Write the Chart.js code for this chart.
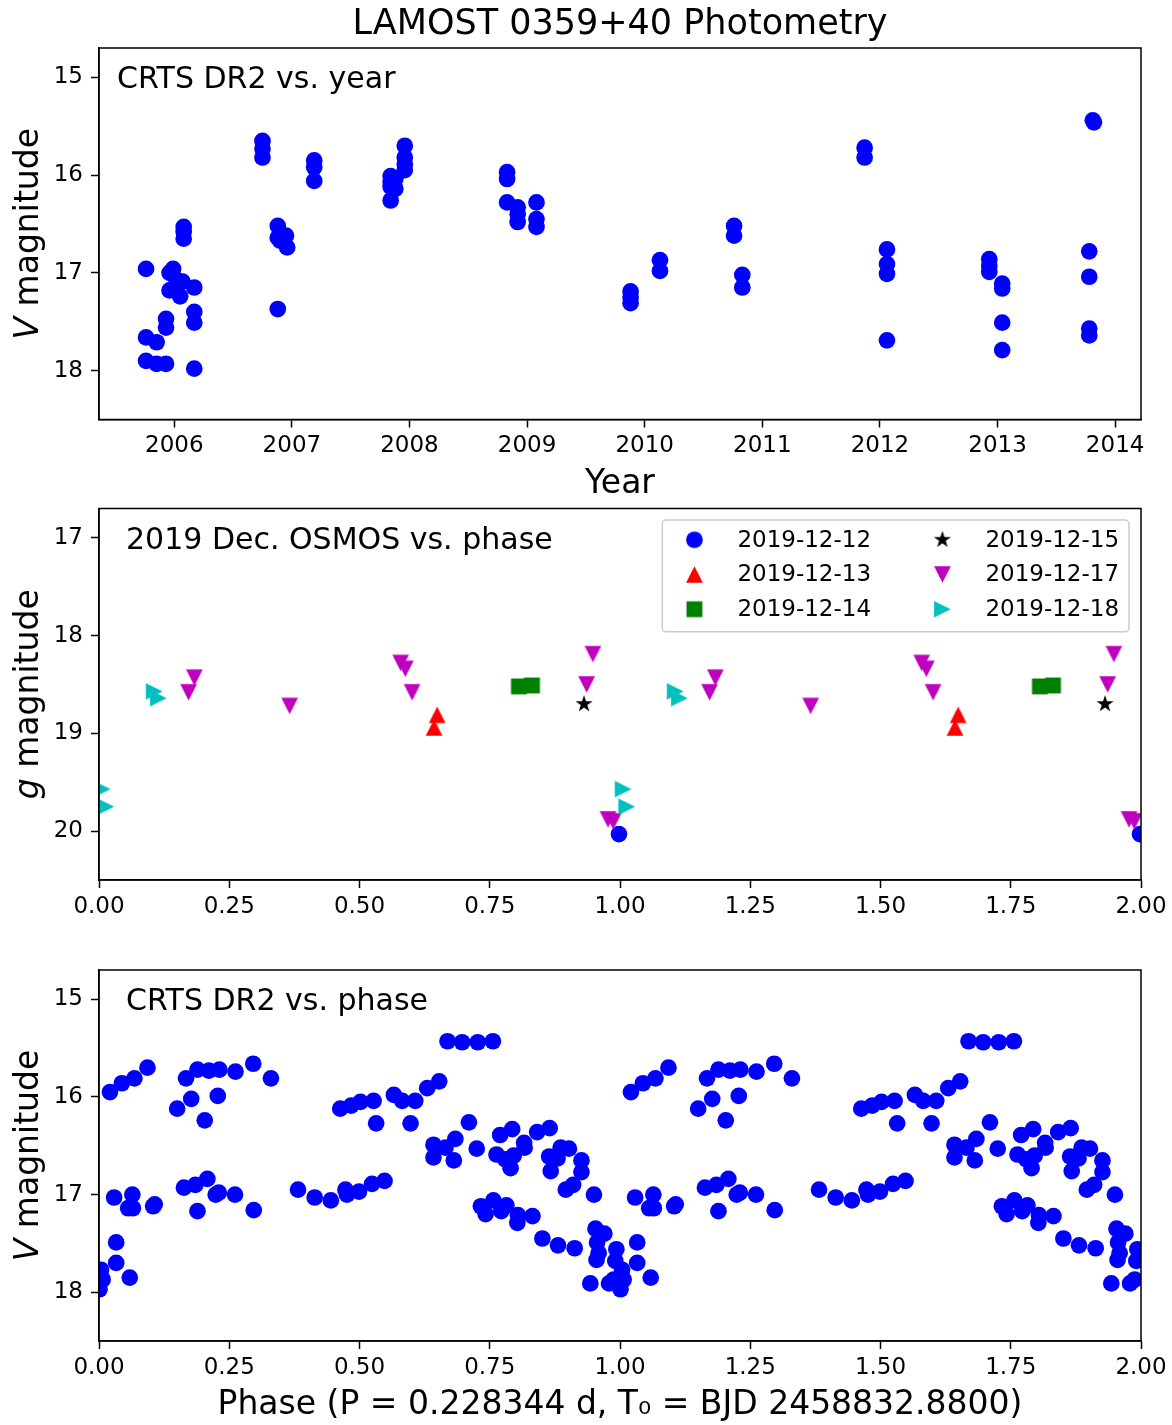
<!DOCTYPE html>
<html lang="en">
<head>
<meta charset="UTF-8">
<title>LAMOST 0359+40 Photometry</title>
<script src="https://cdn.jsdelivr.net/npm/chart.js"></script>
<style>
  html, body { margin: 0; padding: 0; background: #fff; }
  body { width: 1172px; height: 1425px; position: relative; overflow: hidden; }
  .panel { position: absolute; left: 0; }
  #p1 { top: 0; }
  #p2 { top: 500px; }
  #p3 { top: 940px; }
</style>
</head>
<body>
<canvas id="p1" class="panel" width="1172" height="505"></canvas>
<canvas id="p2" class="panel" width="1172" height="440"></canvas>
<canvas id="p3" class="panel" width="1172" height="485"></canvas>

<script>
// ---- data: CRTS DR2 vs. year ----
const crtsYear = [
  2005.76, 2005.76, 2005.85, 2005.76, 2005.85, 2005.93, 2005.93, 2005.93,
  2005.99, 2005.96, 2006.03, 2006.07, 2005.96, 2006.00, 2006.05,
  2006.08, 2006.08, 2006.08, 2006.17, 2006.17, 2006.17, 2006.17,
  2006.75, 2006.75, 2006.75, 2006.88, 2006.88, 2006.90, 2006.95, 2006.96, 2006.88,
  2007.19, 2007.19, 2007.19,
  2007.84, 2007.84, 2007.84, 2007.84, 2007.88, 2007.88, 2007.96, 2007.96, 2007.96, 2007.96,
  2008.83, 2008.83, 2008.83, 2008.92, 2008.92, 2008.92, 2009.08, 2009.08, 2009.08,
  2009.88, 2009.88, 2009.88, 2010.13, 2010.13, 2010.76, 2010.76, 2010.83, 2010.83,
  2011.87, 2011.87, 2012.06, 2012.06, 2012.06, 2012.06,
  2012.93, 2012.93, 2012.93, 2013.04, 2013.04, 2013.04, 2013.04,
  2013.81, 2013.82, 2013.78, 2013.78, 2013.78, 2013.78
];
const crtsYearMag = [
  16.96, 17.66, 17.71, 17.90, 17.93, 17.93, 17.47, 17.56,
  16.96, 17.00, 17.08, 17.09, 17.18, 17.15, 17.24,
  16.53, 16.58, 16.65, 17.15, 17.40, 17.51, 17.98,
  15.65, 15.73, 15.82, 16.52, 16.64, 16.67, 16.62, 16.74, 17.37,
  15.85, 15.92, 16.06,
  16.01, 16.07, 16.12, 16.26, 16.04, 16.14, 15.70, 15.82, 15.89, 15.95,
  15.97, 16.04, 16.28, 16.33, 16.40, 16.48, 16.28, 16.45, 16.53,
  17.19, 17.25, 17.31, 16.87, 16.98, 16.52, 16.62, 17.02, 17.15,
  15.72, 15.82, 16.76, 16.91, 17.01, 17.69,
  16.86, 16.93, 16.99, 17.11, 17.16, 17.51, 17.79,
  15.44, 15.46, 16.78, 17.04, 17.57, 17.64
];

// ---- data: CRTS DR2 folded on the period (phase 0-1, plotted twice) ----
const crtsPhase = [
  0.021, 0.044, 0.068, 0.093, 0.150, 0.167, 0.177, 0.189, 0.203, 0.211, 0.231, 0.228, 0.262, 0.296, 0.330,
  0.029, 0.064, 0.056, 0.065, 0.104, 0.107, 0.033, 0.033, 0.059, 0.001, 0.004, 0.007,
  0.163, 0.185, 0.208, 0.189, 0.224, 0.230, 0.261, 0.297,
  0.382, 0.414, 0.445, 0.473, 0.476, 0.499, 0.524, 0.548,
  0.463, 0.484, 0.502, 0.527, 0.532, 0.566, 0.582, 0.607, 0.598, 0.630, 0.653,
  0.669, 0.697, 0.727, 0.756,
  0.642, 0.665, 0.684, 0.642, 0.681, 0.710, 0.725, 0.770, 0.793, 0.763, 0.780, 0.796, 0.790, 0.816, 0.817,
  0.841, 0.865, 0.864, 0.880, 0.867, 0.886, 0.902, 0.926, 0.926, 0.896, 0.910, 0.950,
  0.733, 0.742, 0.757, 0.772, 0.782, 0.804, 0.803, 0.832,
  0.851, 0.881, 0.913, 0.953, 0.970, 0.956, 0.959, 0.955, 0.993, 0.991, 0.943, 0.979, 0.988
];
const crtsPhaseMag = [
  15.95, 15.86, 15.81, 15.70, 16.12, 15.81, 16.02, 15.72, 16.24, 15.73, 15.72, 15.99, 15.74, 15.66, 15.81,
  17.03, 17.00, 17.14, 17.14, 17.12, 17.10, 17.49, 17.70, 17.85, 17.97, 17.77, 17.87,
  16.93, 16.90, 16.84, 17.17, 17.00, 16.98, 17.00, 17.16,
  16.95, 17.03, 17.06, 16.95, 17.00, 16.97, 16.89, 16.86,
  16.12, 16.09, 16.05, 16.04, 16.27, 15.98, 16.04, 16.04, 16.27, 15.91, 15.84,
  15.43, 15.44, 15.44, 15.43,
  16.49, 16.52, 16.43, 16.62, 16.65, 16.26, 16.53, 16.39, 16.33, 16.59, 16.64, 16.60, 16.73, 16.47, 16.52,
  16.36, 16.32, 16.61, 16.63, 16.76, 16.52, 16.53, 16.65, 16.77, 16.95, 16.90, 17.00,
  17.12, 17.20, 17.06, 17.17, 17.11, 17.21, 17.29, 17.22,
  17.45, 17.52, 17.55, 17.35, 17.40, 17.49, 17.60, 17.67, 17.56, 17.68, 17.91, 17.91, 17.87
];

// ---- data: 2019 Dec. OSMOS, one pair of arrays per night ----
const nights = ['2019-12-12', '2019-12-13', '2019-12-14', '2019-12-15', '2019-12-17', '2019-12-18'];
const phase1212 = [0.998];
const gmag1212 = [20.03];
const phase1213 = [0.649, 0.643];
const gmag1213 = [18.81, 18.94];
const phase1214 = [0.806, 0.831];
const gmag1214 = [18.52, 18.51];
const phase1215 = [0.931];
const gmag1215 = [18.70];
const phase1217 = [0.183, 0.172, 0.366, 0.579, 0.588, 0.601, 0.948, 0.936, 0.977, 0.987];
const gmag1217 = [18.43, 18.58, 18.72, 18.28, 18.34, 18.58, 18.19, 18.50, 19.88, 19.90];
const phase1218 = [0.106, 0.114, 0.006, 0.013];
const gmag1218 = [18.57, 18.64, 19.57, 19.75];

// ---- tick values ----
const yearTicks = [2006, 2007, 2008, 2009, 2010, 2011, 2012, 2013, 2014];
const phaseTicks = [0, 0.25, 0.5, 0.75, 1.0, 1.25, 1.5, 1.75, 2.0];
const vTicks = [15, 16, 17, 18];
const gTicks = [17, 18, 19, 20];

// ---- helpers ----
Chart.defaults.font.family = '"DejaVu Sans", sans-serif';
Chart.defaults.color = '#000';
Chart.defaults.animation = false;
Chart.defaults.events = [];

const FONT = '"DejaVu Sans", sans-serif';
const MS = 16.7; // marker size in px

function marker(kind, color, size) {
  const c = document.createElement('canvas');
  c.width = c.height = Math.ceil(size) + 2;
  const g = c.getContext('2d');
  const m = c.width / 2, h = size / 2;
  g.fillStyle = color;
  g.beginPath();
  if (kind === 'up') { g.moveTo(m, m - h); g.lineTo(m + h, m + h); g.lineTo(m - h, m + h); }
  else if (kind === 'down') { g.moveTo(m, m + h); g.lineTo(m + h, m - h); g.lineTo(m - h, m - h); }
  else if (kind === 'right') { g.moveTo(m + h, m); g.lineTo(m - h, m - h); g.lineTo(m - h, m + h); }
  else if (kind === 'square') { g.rect(m - h * 0.95, m - h * 0.95, size * 0.95, size * 0.95); }
  else if (kind === 'star') {
    for (let i = 0; i < 10; i++) {
      const r = i % 2 ? h * 0.382 : h;
      const t = -Math.PI / 2 + i * Math.PI / 5;
      g.lineTo(m + r * Math.cos(t), m + r * Math.sin(t));
    }
  }
  else { g.arc(m, m, h, 0, Math.PI * 2); }
  g.closePath();
  g.fill();
  return c;
}

const fold = (ph, mag) => ph.map((p, i) => ({ x: p, y: mag[i] }))
  .concat(ph.map((p, i) => ({ x: p + 1, y: mag[i] })));

function xAxis(min, max, ticks, fmt, h, title) {
  return {
    type: 'linear', min, max,
    afterBuildTicks: a => { a.ticks = ticks.map(v => ({ value: v })); },
    afterFit: s => { s.height = h; s.paddingLeft = 0; s.paddingRight = 0; },
    ticks: { autoSkip: false, maxRotation: 0, minRotation: 0, font: { size: 23 }, color: '#000', padding: 5, callback: fmt },
    grid: { drawOnChartArea: false, drawTicks: true, tickLength: 8, tickWidth: 1.5, tickColor: '#000' },
    border: { display: true, color: '#000', width: 1.5 },
    title: title ? { display: true, text: title, font: { size: 33 }, color: '#000', padding: { top: 0, bottom: title === 'Year' ? 1 : 0 } } : { display: false }
  };
}

function yAxis(min, max, ticks) {
  return {
    type: 'linear', min, max, reverse: true,
    afterBuildTicks: a => { a.ticks = ticks.map(v => ({ value: v })); },
    afterFit: s => { s.width = 99; s.paddingTop = 0; s.paddingBottom = 0; },
    ticks: { autoSkip: false, font: { size: 23 }, color: '#000', padding: 8, callback: v => String(v) },
    grid: { drawOnChartArea: false, drawTicks: true, tickLength: 8, tickWidth: 1.5, tickColor: '#000' },
    border: { display: true, color: '#000', width: 1.5 }
  };
}

// frame box, in-panel note, y title with an italic band letter, optional legend
const decor = {
  id: 'decor',
  afterDatasetsDraw(chart, args, o) {
    const { ctx, chartArea: a } = chart;
    ctx.save();
    ctx.strokeStyle = '#000';
    ctx.lineWidth = 1.5;
    ctx.strokeRect(a.left, a.top, a.right - a.left, a.bottom - a.top);

    ctx.fillStyle = '#000';
    ctx.textBaseline = 'alphabetic';
    ctx.textAlign = 'left';
    ctx.font = '30px ' + FONT;
    ctx.fillText(o.note, a.left + o.noteX, a.top + 40);

    // y title
    ctx.save();
    ctx.translate(38, (a.top + a.bottom) / 2);
    ctx.rotate(-Math.PI / 2);
    ctx.font = 'italic 33px ' + FONT;
    const w1 = ctx.measureText(o.band).width;
    ctx.font = '33px ' + FONT;
    const w2 = ctx.measureText(' magnitude').width;
    const x0 = -(w1 + w2) / 2;
    ctx.font = 'italic 33px ' + FONT;
    ctx.fillText(o.band, x0, 0);
    ctx.font = '33px ' + FONT;
    ctx.fillText(' magnitude', x0 + w1, 0);
    ctx.restore();

    if (o.legend) {
      const L = o.legend;
      const bw = 466.7, bh = 111.7;
      const bx = a.right - 12 - bw, by = a.top + 11.6;
      ctx.fillStyle = 'rgba(255,255,255,0.8)';
      ctx.strokeStyle = '#cccccc';
      ctx.lineWidth = 1.5;
      ctx.beginPath();
      ctx.roundRect(bx, by, bw, bh, 4);
      ctx.fill();
      ctx.stroke();
      ctx.font = '23px ' + FONT;
      ctx.textBaseline = 'middle';
      ctx.fillStyle = '#000';
      chart.data.datasets.forEach((ds, i) => {
        const col = Math.floor(i / 3), row = i % 3;
        const mx = bx + (col ? 280.1 : 32.1), tx = bx + (col ? 323.1 : 75.1);
        const my = by + 19.7 + row * 34.7;
        const img = L[i];
        ctx.drawImage(img, mx - img.width / 2, my - img.height / 2);
        ctx.fillText(ds.label, tx, my + 1);
      });
    }
    ctx.restore();
  }
};

// ---- panel 1: CRTS DR2 vs. year ----
new Chart(document.getElementById('p1'), {
  type: 'scatter',
  data: {
    datasets: [{
      label: 'CRTS DR2',
      data: crtsYear.map((t, i) => ({ x: t, y: crtsYearMag[i] })),
      pointStyle: 'circle', pointRadius: MS / 2, borderWidth: 0,
      backgroundColor: '#0000ff', clip: 0
    }]
  },
  options: {
    responsive: false,
    layout: { padding: { left: 0, right: 31, top: 0, bottom: 0 } },
    scales: {
      x: xAxis(2005.36, 2014.22, yearTicks, v => String(v), 85.5, 'Year'),
      y: yAxis(14.7, 18.5, vTicks)
    },
    plugins: {
      legend: { display: false },
      tooltip: { enabled: false },
      title: { display: true, fullSize: false, text: 'LAMOST 0359+40 Photometry', font: { size: 35, weight: 'normal' }, color: '#000', padding: { top: 4, bottom: 2 } },
      decor: { note: 'CRTS DR2 vs. year', noteX: 18, band: 'V' }
    }
  },
  plugins: [decor]
});

// ---- panel 2: 2019 Dec. OSMOS vs. phase ----
const osmos = [
  [phase1212, gmag1212, 'circle', '#0000ff'],
  [phase1213, gmag1213, 'up', '#ff0000'],
  [phase1214, gmag1214, 'square', '#008000'],
  [phase1215, gmag1215, 'star', '#000000'],
  [phase1217, gmag1217, 'down', '#bf00bf'],
  [phase1218, gmag1218, 'right', '#00bfbf']
];
const starSize = 18;
const icons = osmos.map(s => marker(s[2], s[3], s[2] === 'star' ? starSize : MS));

new Chart(document.getElementById('p2'), {
  type: 'scatter',
  data: {
    datasets: osmos.map((s, i) => ({
      label: nights[i],
      data: fold(s[0], s[1]),
      pointStyle: s[2] === 'circle' ? 'circle' : icons[i],
      pointRadius: MS / 2, borderWidth: 0,
      backgroundColor: s[3], clip: 0, order: -i
    }))
  },
  options: {
    responsive: false,
    layout: { padding: { left: 0, right: 31, top: 8.5, bottom: 0 } },
    scales: {
      x: xAxis(0, 2, phaseTicks, v => v.toFixed(2), 60, null),
      y: yAxis(16.7, 20.5, gTicks)
    },
    plugins: {
      legend: { display: false },
      tooltip: { enabled: false },
      decor: { note: '2019 Dec. OSMOS vs. phase', noteX: 27, band: 'g', legend: icons }
    }
  },
  plugins: [decor]
});

// ---- panel 3: CRTS DR2 vs. phase ----
new Chart(document.getElementById('p3'), {
  type: 'scatter',
  data: {
    datasets: [{
      label: 'CRTS DR2',
      data: fold(crtsPhase, crtsPhaseMag),
      pointStyle: 'circle', pointRadius: MS / 2, borderWidth: 0,
      backgroundColor: '#0000ff', clip: 0
    }]
  },
  options: {
    responsive: false,
    layout: { padding: { left: 0, right: 31, top: 30, bottom: 0 } },
    scales: {
      x: xAxis(0, 2, phaseTicks, v => v.toFixed(2), 84, 'Phase (P = 0.228344 d, T\u2080 = BJD 2458832.8800)'),
      y: yAxis(14.7, 18.5, vTicks)
    },
    plugins: {
      legend: { display: false },
      tooltip: { enabled: false },
      decor: { note: 'CRTS DR2 vs. phase', noteX: 27, band: 'V' }
    }
  },
  plugins: [decor]
});
</script>
</body>
</html>
